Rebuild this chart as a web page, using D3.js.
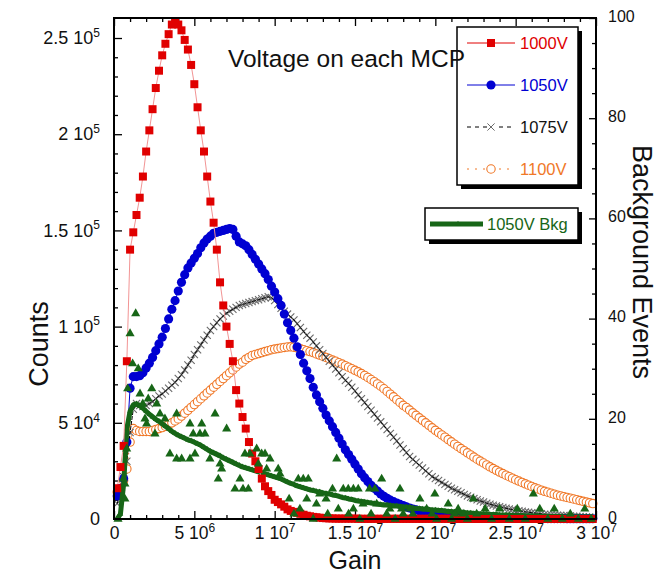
<!DOCTYPE html>
<html>
<head>
<meta charset="utf-8">
<script src="https://cdn.jsdelivr.net/npm/d3@7"></script>
<style>
  body { margin: 0; background: #fff; }
  svg { display: block; font-family: "Liberation Sans", Arial, Helvetica, sans-serif; }
</style>
</head>
<body>
<svg id="chart" width="662" height="574"></svg>
<script>
// Gain bin centres, in units of 1e6
const gainBins = [
  0.2,0.4,0.6,0.8,1.0,1.2,1.4,1.6,1.8,2.0,
  2.2,2.4,2.6,2.8,3.0,3.2,3.4,3.6,3.8,4.0,
  4.2,4.4,4.6,4.8,5.0,5.2,5.4,5.6,5.8,6.0,
  6.2,6.4,6.6,6.8,7.0,7.2,7.4,7.6,7.8,8.0,
  8.2,8.4,8.6,8.8,9.0,9.2,9.4,9.6,9.8,10.0,
  10.2,10.4,10.6,10.8,11.0,11.2,11.4,11.6,11.8,12.0,
  12.2,12.4,12.6,12.8,13.0,13.2,13.4,13.6,13.8,14.0,
  14.2,14.4,14.6,14.8,15.0,15.2,15.4,15.6,15.8,16.0,
  16.2,16.4,16.6,16.8,17.0,17.2,17.4,17.6,17.8,18.0,
  18.2,18.4,18.6,18.8,19.0,19.2,19.4,19.6,19.8,20.0,
  20.2,20.4,20.6,20.8,21.0,21.2,21.4,21.6,21.8,22.0,
  22.2,22.4,22.6,22.8,23.0,23.2,23.4,23.6,23.8,24.0,
  24.2,24.4,24.6,24.8,25.0,25.2,25.4,25.6,25.8,26.0,
  26.2,26.4,26.6,26.8,27.0,27.2,27.4,27.6,27.8,28.0,
  28.2,28.4,28.6,28.8,29.0,29.2,29.4,29.6,29.8
];
const GAIN_UNIT = 1e6;
const COUNT_UNIT = 1e3;

// Pulse-height counts per gain bin (thousands), one array per MCP voltage
const counts1000V = [
  16,27,38,82,140,149,158,167,178,191,
  202,213,224,233,241,247,252,257,258,257,
  254,249,244,236,226,214,202,191,178,165,
  154,140,123,111,100,91,82,67,60,53,
  47,40,34,30,26,21,17,14.5,12.5,10,
  8.8,7.6,6.4,5,4.2,3.7,3.2,2.7,2.2,1.7,
  1.4,1.1,0.9,0.7,0.5,0.4,0.3,0.3,0.2,0.2,
  0.2,0.2,0.2,0.2,0.2,0.1,0.1,0.1,0.1,0.1,
  0.1,0.1,0.1,0.1,0.1,0.1,0.1,0.1,0.1,0.1,
  0.1,0.1,0.1,0.1,0.1,0.1,0.1,0.1,0.1,0.1,
  0.1,0.1,0.1,0.1,0.1,0,0,0,0,0,
  0,0,0,0,0,0,0,0,0,0,
  0,0,0,0,0,0,0,0,0,0,
  0,0,0,0,0,0,0,0,0,0,
  0,0,0,0,0,0,0,0,0
];
const counts1050V = [
  12,16,21,40,68,74,74,74.5,76,78.5,
  81,84,87.5,91,94.5,99,104,109,113.5,118.5,
  123,127,130.5,133,135.5,138,141,143.5,145.5,147,
  148.5,149,149.5,150,150.5,151,150.5,147,144,143,
  142,140,137.5,135,132.5,130,127.5,124.5,121,118,
  114.5,111,106.5,102,98,94,89.5,85.5,81,77,
  73,68.5,64.5,61,57.5,54,51,48,45,42,
  39,36,33.5,31,28.5,26,23.5,21.5,19.5,17.5,
  16,14.5,13,11.8,10.8,9.8,9,8.3,7.6,7,
  6.3,5.7,5.2,4.7,4.3,3.9,3.6,3.3,3.0,2.8,
  2.6,2.4,2.2,2.0,1.9,1.8,1.7,1.6,1.5,1.4,
  1.3,1.2,1.1,1.0,0.9,0.85,0.8,0.75,0.7,0.65,
  0.6,0.55,0.5,0.45,0.4,0.4,0.35,0.35,0.3,0.3,
  0.3,0.25,0.25,0.25,0.2,0.2,0.2,0.2,0.2,0.2,
  0.15,0.15,0.15,0.15,0.15,0.15,0.15,0.15,0.15
];
const counts1075V = [
  8,14,22,30,45,57,60,59,58.5,59,
  60,61,62.5,64,65,66.5,68,69.5,71,73,
  75,77.5,80,82.5,85.5,88,90.5,93,95.5,98,
  100,102,104,105.5,107,108,109,110,111,111.5,
  112,112.5,113,113.5,114,114.5,115,115.5,115,113.5,
  111.5,109.5,108,106.5,105,103.5,101.5,99.5,97.5,95.5,
  94,92,90,88,86,84,82,80,78,76,
  74,72,70.5,68.5,66.5,64.5,62.5,60.5,58.5,56.5,
  54.5,52.5,50.5,48.5,46.5,44.5,42.5,40.5,38.5,36.5,
  34.5,32.5,31,29.5,28,26.5,25,23.5,22,21,
  20,19,18,17,16,15.2,14.4,13.6,12.8,12,
  11.3,10.6,10,9.4,8.8,8.2,7.7,7.2,6.8,6.4,
  6,5.6,5.2,4.9,4.6,4.3,4,3.7,3.5,3.3,
  3.1,2.9,2.7,2.5,2.3,2.2,2.1,2,1.9,1.8,
  1.7,1.6,1.5,1.4,1.3,1.2,1.1,1.0,0.9
];
const counts1100V = [
  14,15,20,26,40,47,46,45.5,45.5,45.5,
  45.5,46,46.5,47,47.5,48.2,49,50,51,52,
  53.5,55,56.5,58,59.5,61,62.5,64,65.5,67,
  68.5,70,71.5,73,74.5,76,77.5,79,80.5,81.5,
  83,84,85,85.5,86,86.5,87,87.5,88,88.3,
  88.6,88.9,89.2,89.4,89.5,89.3,89,88.5,88,87.5,
  87,86.5,85.8,85.2,84.6,84,83.3,82.6,82,81.2,
  80.5,79.7,78.9,78.1,77.3,76.5,75.6,74.6,73.6,72.5,
  71.4,70.2,69,67.7,66.3,64.9,63.5,62,60.6,59.1,
  58,56.6,55.2,53.9,52.6,51.3,50,48.7,47.4,46.1,
  44.9,43.7,42.5,41.3,40.1,38.9,37.7,36.6,35.5,34.4,
  33.3,32.2,31.1,30.1,29.1,28.1,27.1,26.2,25.3,24.4,
  23.6,22.8,22,21.2,20.4,19.7,19,18.3,17.6,16.9,
  16.2,15.6,15,14.4,13.9,13.4,12.9,12.4,12,11.6,
  11.2,10.8,10.4,10,9.6,9.2,8.8,8.4,8
];

// 1050V background: smoothed rate and individual bin events (right axis)
const bkgSmooth1050V = [
  0,1,7,18,21.5,22.8,23,22.6,22.1,21.5,
  20.9,20.4,19.9,19.5,19,18.5,18,17.5,17.1,16.7,
  16.4,16.1,15.8,15.6,15.3,15,14.7,14.3,13.9,13.5,
  13.2,12.9,12.6,12.2,11.9,11.6,11.3,11,10.7,10.4,
  10.2,10,9.8,9.6,9.4,9.2,9,8.8,8.6,8.4,
  8.2,8,7.7,7.4,7.1,6.9,6.6,6.4,6.2,6,
  5.8,5.7,5.5,5.4,5.2,5.1,5,4.8,4.7,4.5,
  4.3,4.2,4,3.9,3.7,3.6,3.5,3.4,3.3,3.2,
  3.1,3,2.9,2.8,2.8,2.7,2.6,2.6,2.5,2.4,
  2.4,2.3,2.2,2.1,2.1,2,2,1.9,1.8,1.8,
  1.7,1.7,1.6,1.5,1.5,1.4,1.4,1.3,1.3,1.2,
  1.2,1.1,1.1,1,1,1,0.9,0.9,0.9,0.8,
  0.8,0.8,0.8,0.7,0.7,0.7,0.7,0.6,0.6,0.6,
  0.6,0.6,0.5,0.5,0.5,0.5,0.5,0.5,0.5,0.4,
  0.4,0.4,0.4,0.4,0.4,0.4,0.4,0.4,0.4
];
const bkgGain = [
  0.25,0.58,0.68,0.68,0.79,0.85,1.0,1.16,1.35,1.51,
  1.62,1.79,1.93,2.03,2.13,2.35,2.55,2.66,2.86,3.17,
  3.48,3.9,3.9,4.21,4.73,4.73,4.93,5.04,5.35,5.46,
  5.66,5.97,6.29,6.49,6.6,6.7,7.01,7.53,7.84,8.03,
  8.15,8.36,8.46,8.88,8.98,9.19,9.4,9.5,9.71,10.22,
  10.33,10.9,11.2,11.47,11.57,11.78,12.0,12.09,12.4,12.6,
  12.8,13.2,13.3,13.6,13.86,13.96,14.27,14.58,14.6,14.9,
  14.9,15.2,15.3,15.5,15.9,16.0,16.24,16.35,16.66,16.97,
  17.17,17.5,17.8,17.9,18.0,18.42,18.6,19.04,19.46,19.8,
  19.97,20.08,20.8,21.01,21.2,21.42,21.73,22.0,22.36,22.57,
  23.1,23.5,24.0,24.6,25.1,25.6,26.1,26.5,27.0,27.4,
  27.9,28.4,28.9,29.3,29.7
];
const bkgEvents = [
  0,8,4,7,14,26,37,31,41,30,
  25,23,20,19,24,26,17,23,21,20,
  13,21,12,12,19,12,17,13,17,19,
  17,12,21,8,11,10,18,6,8,6,
  13,6,13,14,11,13,13,10,12,10,
  9,4,1,8,2,8,4,8,0,3,
  5,4,1,6,12,2,6,6,1,6,
  2,6,0,3,6,1,6,3,8,1,
  2,0,6,2,1,2,1,4,2,1,
  5,0,3,0,1,2,1,0,4,1,
  2,0,2,0,2,0,5,2,0,2,
  0,1,0,2,0
];

// Axis ticks and labels (mantissa, exponent)
const countTicks = [0, 5e4, 1e5, 1.5e5, 2e5, 2.5e5];
const countTickLabels = [["0",""],["5 10","4"],["1 10","5"],["1.5 10","5"],["2 10","5"],["2.5 10","5"]];
const gainTicks = [0, 5e6, 1e7, 1.5e7, 2e7, 2.5e7, 3e7];
const gainTickLabels = [["0",""],["5 10","6"],["1 10","7"],["1.5 10","7"],["2 10","7"],["2.5 10","7"],["3 10","7"]];
const eventTicks = [0, 20, 40, 60, 80, 100];

const svg = d3.select("#chart");
const box = { left: 114, right: 596, top: 18, bottom: 519 };

const x = d3.scaleLinear().domain([0, 3e7]).range([box.left, box.right]);
const yL = d3.scaleLinear().domain([0, 260400]).range([box.bottom, box.top]);
const yR = d3.scaleLinear().domain([0, 100]).range([box.bottom, box.top]);

const COLORS = {
  red: "#e00000", redLine: "#f29494",
  blue: "#0000d2",
  black: "#000", grey: "#6a6a6a",
  orange: "#f07828",
  green: "#176617"
};

// ---------- axes ----------
function styleAxis(g) {
  g.select(".domain").remove();
  g.attr("font-family", null).attr("font-size", null);
  g.selectAll(".tick line").attr("stroke-width", 1.3);
}
function writeLabels(g, values, labels, fs, supFs) {
  g.selectAll(".tick text").each(function (d) {
    const i = values.indexOf(d);
    const t = d3.select(this).text(null).attr("font-size", fs).attr("fill", "#111");
    t.append("tspan").text(labels[i][0]);
    if (labels[i][1]) t.append("tspan").attr("font-size", supFs).attr("dy", "-0.62em").text(labels[i][1]);
  });
}

const countMinor = d3.range(0, 2.6e5, 1e4).filter(v => v % 5e4 !== 0);
const gainMinor = d3.range(0, 3e7, 1e6).filter(v => v % 5e6 !== 0);
const eventMinor = d3.range(0, 100, 5).filter(v => v % 20 !== 0);

// left
svg.append("g").attr("transform", `translate(${box.left},0)`)
  .call(d3.axisLeft(yL).tickValues(countMinor).tickSize(-4).tickFormat(""))
  .call(styleAxis);
const gLeft = svg.append("g").attr("transform", `translate(${box.left},0)`)
  .call(d3.axisLeft(yL).tickValues(countTicks).tickSize(-8).tickPadding(14))
  .call(styleAxis);
writeLabels(gLeft, countTicks, countTickLabels, 18, 12);

// bottom
svg.append("g").attr("transform", `translate(0,${box.bottom})`)
  .call(d3.axisBottom(x).tickValues(gainMinor).tickSize(-4).tickFormat(""))
  .call(styleAxis);
const gBottom = svg.append("g").attr("transform", `translate(0,${box.bottom})`)
  .call(d3.axisBottom(x).tickValues(gainTicks).tickSize(-8).tickPadding(8))
  .call(styleAxis);
writeLabels(gBottom, gainTicks, gainTickLabels, 17.5, 12);

// top (ticks only)
svg.append("g").attr("transform", `translate(0,${box.top})`)
  .call(d3.axisTop(x).tickValues(gainMinor).tickSize(-4).tickFormat(""))
  .call(styleAxis);
svg.append("g").attr("transform", `translate(0,${box.top})`)
  .call(d3.axisTop(x).tickValues(gainTicks).tickSize(-8).tickFormat(""))
  .call(styleAxis);

// right
svg.append("g").attr("transform", `translate(${box.right},0)`)
  .call(d3.axisRight(yR).tickValues(eventMinor).tickSize(-4).tickFormat(""))
  .call(styleAxis);
const gRight = svg.append("g").attr("transform", `translate(${box.right},0)`)
  .call(d3.axisRight(yR).tickValues(eventTicks).tickSize(-7).tickPadding(12))
  .call(styleAxis);
gRight.selectAll(".tick text").attr("font-size", 16).attr("fill", "#111").attr("dy", "0.2em");

// ---------- series ----------
const plot = svg.append("g");
const pts = (vals, yScale, unit) =>
  gainBins.slice(0, vals.length).map((g, i) => [x(g * GAIN_UNIT), yScale(vals[i] * unit)]);

const line = d3.line();
const sq = d3.symbol(d3.symbolSquare, 64)();
const circ = d3.symbol(d3.symbolCircle, 66)();
const tri = d3.symbol(d3.symbolTriangle, 36)();
const triSmall = d3.symbol(d3.symbolTriangle, 14)();
const cross = "M-3.6,-3.6L3.6,3.6M-3.6,3.6L3.6,-3.6";

// 1100 V: dotted orange, open circles
const p1100 = pts(counts1100V, yL, COUNT_UNIT);
plot.append("path").attr("d", line(p1100)).attr("fill", "none")
  .attr("stroke", COLORS.orange).attr("stroke-width", 1).attr("stroke-dasharray", "1.5,3");
plot.append("g").selectAll("circle").data(p1100).join("circle")
  .attr("cx", d => d[0]).attr("cy", d => d[1]).attr("r", 4.2)
  .attr("fill", "#fff").attr("stroke", COLORS.orange).attr("stroke-width", 1.1);

// 1075 V: dashed black, grey crosses
const p1075 = pts(counts1075V, yL, COUNT_UNIT);
plot.append("g").selectAll("path").data(p1075).join("path")
  .attr("transform", d => `translate(${d[0]},${d[1]})`).attr("d", cross)
  .attr("stroke", COLORS.grey).attr("stroke-width", 1.1).attr("fill", "none");
plot.append("path").attr("d", line(p1075)).attr("fill", "none")
  .attr("stroke", COLORS.black).attr("stroke-width", 1).attr("stroke-dasharray", "4,1");

// 1050 V: blue filled circles
const p1050 = pts(counts1050V, yL, COUNT_UNIT);
plot.append("path").attr("d", line(p1050)).attr("fill", "none")
  .attr("stroke", COLORS.blue).attr("stroke-width", 1);
plot.append("g").selectAll("path").data(p1050).join("path")
  .attr("transform", d => `translate(${d[0]},${d[1]})`).attr("d", circ)
  .attr("fill", COLORS.blue);

// 1050 V background, smoothed (right axis)
const pBkg = pts(bkgSmooth1050V, yR, 1);
plot.append("path").attr("d", line(pBkg)).attr("fill", "none")
  .attr("stroke", COLORS.green).attr("stroke-width", 5).attr("stroke-linejoin", "round");
plot.append("g").selectAll("path").data(pBkg).join("path")
  .attr("transform", d => `translate(${d[0]},${d[1]})`).attr("d", triSmall)
  .attr("fill", COLORS.green);

// 1000 V: red squares on a thin pink line
const p1000 = pts(counts1000V, yL, COUNT_UNIT);
plot.append("path").attr("d", line(p1000)).attr("fill", "none")
  .attr("stroke", COLORS.redLine).attr("stroke-width", 1);
plot.append("g").selectAll("path").data(p1000).join("path")
  .attr("transform", d => `translate(${d[0]},${d[1]})`).attr("d", sq)
  .attr("fill", COLORS.red);

// background events per bin (right axis)
plot.append("g").selectAll("path").data(bkgGain.map((g, i) => [g, bkgEvents[i]])).join("path")
  .attr("transform", d => `translate(${x(d[0] * GAIN_UNIT)},${yR(d[1])})`).attr("d", tri)
  .attr("fill", COLORS.green);

// frame
svg.append("rect").attr("x", box.left).attr("y", box.top)
  .attr("width", box.right - box.left).attr("height", box.bottom - box.top)
  .attr("fill", "none").attr("stroke", "#000").attr("stroke-width", 2);

// ---------- legends ----------
function legendBox(bx, by, bw, bh) {
  svg.append("rect").attr("x", bx + 4).attr("y", by + 4).attr("width", bw).attr("height", bh).attr("fill", "#000");
  svg.append("rect").attr("x", bx).attr("y", by).attr("width", bw).attr("height", bh)
    .attr("fill", "#fff").attr("stroke", "#000").attr("stroke-width", 1.5);
}
legendBox(457, 27, 121, 158);
const legendRows = [
  { label: "1000V", y: 43, color: COLORS.red, line: COLORS.red, dash: null, mark: "square" },
  { label: "1050V", y: 85, color: COLORS.blue, line: COLORS.blue, dash: null, mark: "circle" },
  { label: "1075V", y: 127, color: "#111", line: "#000", dash: "4,4", mark: "cross" },
  { label: "1100V", y: 169, color: COLORS.orange, line: COLORS.orange, dash: "2,6", mark: "open" }
];
legendRows.forEach(r => {
  svg.append("line").attr("x1", 467).attr("x2", 515).attr("y1", r.y).attr("y2", r.y)
    .attr("stroke", r.line).attr("stroke-width", 1).attr("stroke-dasharray", r.dash);
  const m = svg.append("g").attr("transform", `translate(491,${r.y})`);
  if (r.mark === "square") m.append("path").attr("d", sq).attr("fill", COLORS.red);
  if (r.mark === "circle") m.append("path").attr("d", circ).attr("fill", COLORS.blue);
  if (r.mark === "cross") { m.append("rect").attr("x", -4).attr("y", -4).attr("width", 8).attr("height", 8).attr("fill", "#fff");
    m.append("path").attr("d", cross).attr("stroke", COLORS.grey).attr("stroke-width", 1); }
  if (r.mark === "open") m.append("circle").attr("r", 4.2).attr("fill", "#fff").attr("stroke", COLORS.orange).attr("stroke-width", 1.1);
  svg.append("text").attr("x", 520).attr("y", r.y + 6).attr("font-size", 16.5).attr("fill", r.color).text(r.label);
});

legendBox(425, 208, 153, 32);
svg.append("line").attr("x1", 430).attr("x2", 483).attr("y1", 224).attr("y2", 224)
  .attr("stroke", COLORS.green).attr("stroke-width", 5);
svg.append("path").attr("transform", "translate(458,224)").attr("d", triSmall).attr("fill", COLORS.green);
svg.append("text").attr("x", 487).attr("y", 230).attr("font-size", 16.5).attr("fill", COLORS.green).text("1050V Bkg");

// ---------- titles ----------
svg.append("text").attr("x", 228).attr("y", 67).attr("font-size", 24.5).attr("fill", "#111")
  .text("Voltage on each MCP");
svg.append("text").attr("transform", "translate(48,344) rotate(-90)")
  .attr("text-anchor", "middle").attr("font-size", 27).attr("fill", "#111").text("Counts");
svg.append("text").attr("x", 355).attr("y", 569)
  .attr("text-anchor", "middle").attr("font-size", 25).attr("fill", "#111").text("Gain");
svg.append("text").attr("transform", "translate(633,262) rotate(90)")
  .attr("text-anchor", "middle").attr("font-size", 27).attr("fill", "#111").text("Background Events");
</script>
</body>
</html>
